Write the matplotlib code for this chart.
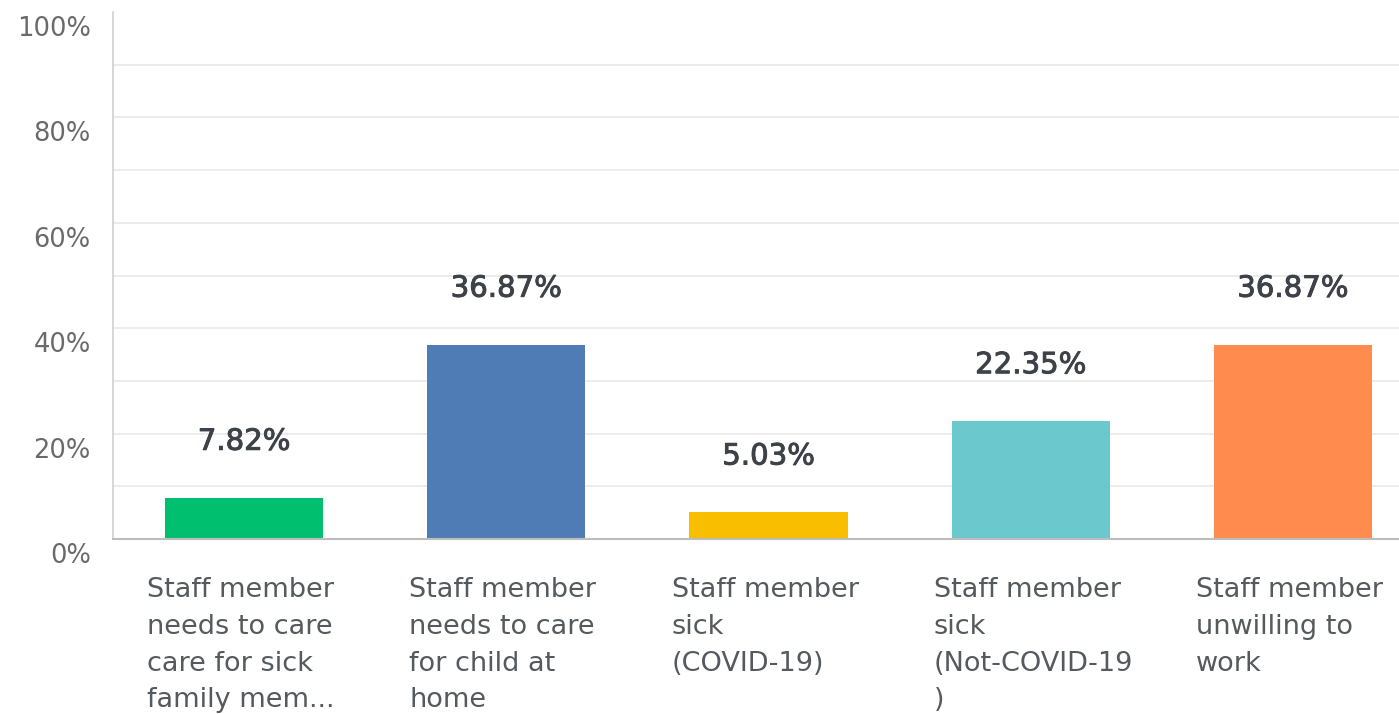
import matplotlib
matplotlib.use("Agg")
import matplotlib.pyplot as plt
from matplotlib.transforms import ScaledTranslation
import matplotlib.patheffects as pe

categories = [
    "Staff member\nneeds to care\ncare for sick\nfamily mem...",
    "Staff member\nneeds to care\nfor child at\nhome",
    "Staff member\nsick\n(COVID-19)",
    "Staff member\nsick\n(Not-COVID-19\n)",
    "Staff member\nunwilling to\nwork",
]
values = [7.82, 36.87, 5.03, 22.35, 36.87]
value_labels = ["7.82%", "36.87%", "5.03%", "22.35%", "36.87%"]
colors = ["#00BF6F", "#507CB6", "#F9BE00", "#6BC8CD", "#FF8B4F"]
ytick_values = [0, 20, 40, 60, 80, 100]
ytick_labels = ["0%", "20%", "40%", "60%", "80%", "100%"]
grid_values = [10, 20, 30, 40, 50, 60, 70, 80, 90]

plt.rcParams['font.family'] = ['DejaVu Sans']

W, H, DPI = 1399, 714, 100
fig = plt.figure(figsize=(W / DPI, H / DPI), dpi=DPI)
fig.patch.set_facecolor("white")

left = 113 / W
bottom = (H - 539) / H
top = (H - 12) / H
ax = fig.add_axes([left, bottom, 1.0 - left, top - bottom])

x = list(range(len(values)))
ax.bar(x, values, width=0.603, color=colors, zorder=3)

# clip at the right edge as in the reference (axes continues beyond image)
ax.set_xlim(-0.5, 4.5 - 25 / 262)
ax.set_ylim(0, 100)

for v in grid_values:
    ax.axhline(v, color="#e9e9e9", linewidth=1.2, zorder=1)

ax.set_yticks(ytick_values)
ax.set_yticklabels(ytick_labels, fontsize=18.5, color="#6a6a6a")
ax.tick_params(axis="y", length=0, pad=16)
offset = ScaledTranslation(0, -14 / DPI, fig.dpi_scale_trans)
for lab in ax.get_yticklabels():
    lab.set_transform(lab.get_transform() + offset)

ax.set_xticks([])
for s in ["top", "right"]:
    ax.spines[s].set_visible(False)
ax.spines["left"].set_color("#cfcfcf")
ax.spines["left"].set_linewidth(1.2)
ax.spines["bottom"].set_color("#bdbdbd")
ax.spines["bottom"].set_linewidth(1.5)
ax.spines["bottom"].set_zorder(4)

for xi, v, lab in zip(x, values, value_labels):
    ax.annotate(lab, xy=(xi, v), xytext=(0, 56), textcoords="offset pixels",
                ha="center", va="center", fontsize=21, color="#3d4248",
                zorder=5,
                path_effects=[pe.withStroke(linewidth=0.7, foreground="#3d4248")])

for xi, cat in zip(x, categories):
    ax.annotate(cat, xy=(xi, 0), xytext=(-97, -38), textcoords="offset pixels",
                ha="left", va="top", fontsize=19.5, color="#555a5e",
                linespacing=1.54, annotation_clip=False)

fig.savefig("out.png", dpi=DPI, facecolor="white")
